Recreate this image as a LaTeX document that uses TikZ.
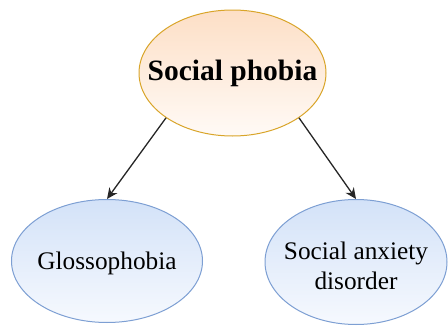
\documentclass[tikz,border=0pt]{standalone}
\usepackage{fontspec}
\setmainfont{Liberation Serif}
\usetikzlibrary{shapes.geometric,arrows.meta}
\definecolor{rootline}{HTML}{D9A52A}
\definecolor{roottop}{HTML}{FDDFC6}
\definecolor{rootbot}{HTML}{FFFAF6}
\definecolor{leafline}{HTML}{7D9FD3}
\definecolor{leaftop}{HTML}{D3E2F8}
\definecolor{leafbot}{HTML}{F6F9FE}
\tikzset{
  root/.style={ellipse, draw=rootline, line width=1pt, top color=roottop, bottom color=rootbot,
    inner sep=0pt, minimum width=187pt, minimum height=126pt},
  leaf/.style={ellipse, draw=leafline, line width=1pt, top color=leaftop, bottom color=leafbot,
    inner sep=0pt, minimum height=123pt},
  roottext/.style={inner sep=0pt, font=\fontsize{29.5}{31}\selectfont\bfseries},
  leaftext/.style={inner sep=0pt, align=center, font=\fontsize{25.3}{29.5}\selectfont},
  link/.style={-{Stealth[length=11pt,width=10pt]}, line width=1.3pt, draw=black!85}
}
\begin{document}
\begin{tikzpicture}[x=1pt,y=-1pt]
  \useasboundingbox (0,0) rectangle (448,327);
  % ellipses
  \node[root] (sp) at (232.5,73) {};
  \node[leaf, minimum width=191pt] (gl) at (107,261) {};
  \node[leaf, minimum width=182pt, minimum height=125pt] (sad) at (356,262) {};
  % labels
  \node[roottext] (spt) at (sp.center) {Social phobia};
  \node[leaftext] (glt) at ([yshift=-2pt]gl.center) {Glossophobia};
  \node[leaftext] (sadt) at ([yshift=-4pt]sad.center) {Social anxiety\\disorder};
  % connectors
  \draw[link] (sp.214) -- (gl.north);
  \draw[link] (sp.-34) -- (sad.north);
\end{tikzpicture}
\end{document}
